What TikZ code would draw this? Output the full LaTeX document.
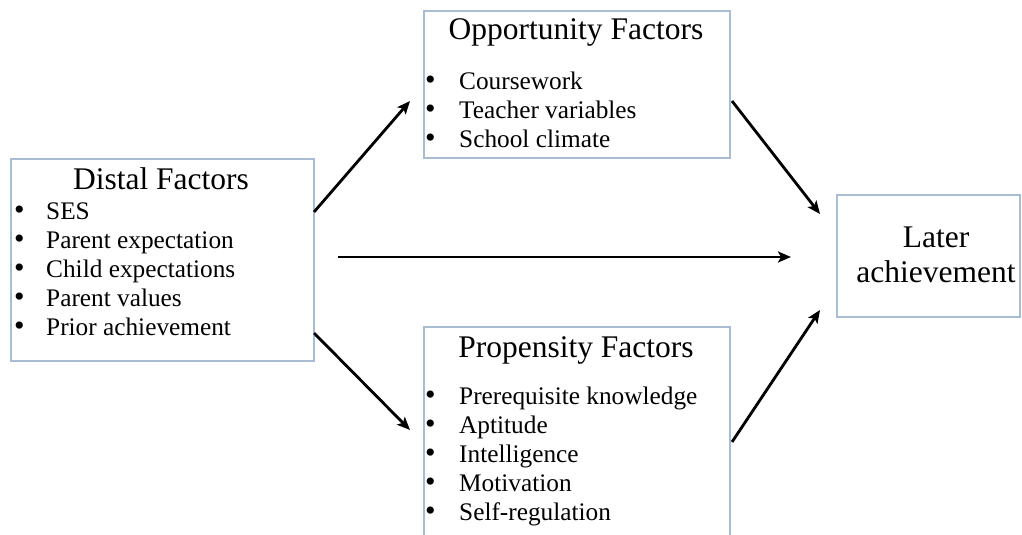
\documentclass[tikz,border=0pt]{standalone}
\usepackage{fontspec}
\setmainfont{Liberation Serif}
\usetikzlibrary{arrows.meta}
\definecolor{boxline}{RGB}{168,188,212}
\tikzset{
  box/.style={draw=boxline, line width=1.5pt, fill=white},
  title/.style={inner sep=0, anchor=base, font=\fontsize{31.5}{34}\selectfont},
  item/.style={inner sep=0, anchor=base west, font=\fontsize{25.3}{29}\selectfont},
  bul/.style={inner sep=0, anchor=base west, font=\fontsize{30}{30}\selectfont},
  arr/.style={line width=2.8pt, -{Stealth[length=13pt,width=11pt,inset=3pt]}}
}
\begin{document}
\begin{tikzpicture}[x=1pt,y=-1pt]
\clip (0,0) rectangle (1022,535);
\fill[white] (0,0) rectangle (1022,535);
% boxes
\draw[box] (11,159) rectangle (314,361);
\draw[box] (424,11) rectangle (730,158);
\draw[box] (424,327) rectangle (730,560);
\draw[box] (837,195) rectangle (1020,317);
% Distal
\node[title] (dt) at (161,189) {Distal Factors};
\foreach \t [count=\i] in {SES,Parent expectation,Child expectations,Parent values,Prior achievement}{
  \node[bul] (db\i) at (14,{191+28.9*\i}) {•};
  \node[item] (di\i) at (46,{191+28.9*\i}) {\t};
}
% Opportunity
\node[title] (ot) at (576,40) {Opportunity Factors};
\foreach \t [count=\i] in {Coursework,Teacher variables,School climate}{
  \node[bul] (ob\i) at (425,{61+28.8*\i}) {•};
  \node[item] (oi\i) at (459,{61+28.8*\i}) {\t};
}
% Propensity
\node[title] (pt) at (576,357) {Propensity Factors};
\foreach \t [count=\i] in {Prerequisite knowledge,Aptitude,Intelligence,Motivation,Self-regulation}{
  \node[bul] (pb\i) at (425,{375+29*\i}) {•};
  \node[item] (pi\i) at (459,{375+29*\i}) {\t};
}
% Later
\node[title] (l1) at (936,247) {Later};
\node[title] (l2) at (936,282) {achievement};
% arrows
\coordinate (a1s) at (314,212); \coordinate (a1e) at (410,101);
\coordinate (a2s) at (314,333); \coordinate (a2e) at (410,430);
\coordinate (a3s) at (338,257); \coordinate (a3e) at (791,257);
\coordinate (a4s) at (732,101); \coordinate (a4e) at (820,214);
\coordinate (a5s) at (732,442); \coordinate (a5e) at (820,310);
\draw[arr] (a1s) -- (a1e);
\draw[arr] (a2s) -- (a2e);
\draw[arr] (a3s) -- (a3e);
\draw[arr] (a4s) -- (a4e);
\draw[arr] (a5s) -- (a5e);
\end{tikzpicture}
\end{document}
